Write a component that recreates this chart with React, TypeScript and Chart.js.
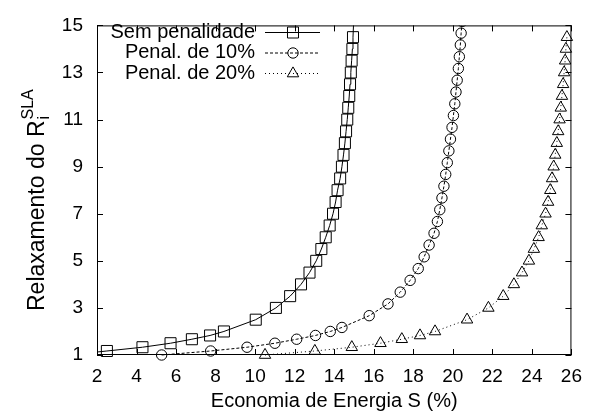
import { useEffect, useRef } from "react";
import { Chart, registerables } from "chart.js";

Chart.register(...registerables);

// Axis ticks
const xTicks = [2, 4, 6, 8, 10, 12, 14, 16, 18, 20, 22, 24, 26];
const yTicks = [1, 3, 5, 7, 9, 11, 13, 15];

// Series names
const seriesNames = ["Sem penalidade", "Penal. de 10%", "Penal. de 20%"];

// Sem penalidade
const semPenX = [0.5, 2.5, 4.3, 5.72, 6.8, 7.72, 8.42, 10.03, 11.05, 11.77, 12.32, 12.75, 13.09, 13.35, 13.57, 13.77, 13.94, 14.07, 14.17, 14.3, 14.39, 14.47, 14.54, 14.6, 14.66, 14.71, 14.76, 14.8, 14.84, 14.88, 14.92, 14.95, 15.0];
const semPenY = [1.0, 1.17, 1.33, 1.5, 1.67, 1.83, 2.0, 2.5, 3.0, 3.5, 4.0, 4.5, 5.0, 5.5, 6.0, 6.5, 7.0, 7.5, 8.0, 8.5, 9.0, 9.5, 10.0, 10.5, 11.0, 11.5, 12.0, 12.5, 13.0, 13.5, 14.0, 14.5, 15.5];

// Penal. de 10%
const pen10X = [5.27, 7.75, 9.59, 11.0, 12.1, 13.05, 13.8, 14.39, 15.77, 16.72, 17.34, 17.84, 18.25, 18.55, 18.8, 19.05, 19.22, 19.34, 19.45, 19.55, 19.64, 19.72, 19.8, 19.88, 19.96, 20.03, 20.1, 20.16, 20.22, 20.28, 20.33, 20.38, 20.42, 20.47];
const pen10Y = [1.0, 1.17, 1.33, 1.5, 1.67, 1.83, 2.0, 2.17, 2.67, 3.17, 3.67, 4.17, 4.67, 5.17, 5.67, 6.17, 6.67, 7.17, 7.67, 8.17, 8.67, 9.17, 9.67, 10.17, 10.67, 11.17, 11.67, 12.17, 12.67, 13.17, 13.67, 14.17, 14.67, 15.17];

// Penal. de 20%
const pen20X = [10.5, 13.02, 14.89, 16.34, 17.42, 18.34, 19.1, 20.72, 21.8, 22.55, 23.09, 23.5, 23.85, 24.1, 24.34, 24.5, 24.69, 24.82, 24.93, 25.02, 25.1, 25.18, 25.26, 25.33, 25.4, 25.46, 25.52, 25.58, 25.63, 25.68, 25.72, 25.77];
const pen20Y = [1.0, 1.17, 1.33, 1.5, 1.67, 1.83, 2.0, 2.5, 3.0, 3.5, 4.0, 4.5, 5.0, 5.5, 6.0, 6.5, 7.0, 7.5, 8.0, 8.5, 9.0, 9.5, 10.0, 10.5, 11.0, 11.5, 12.0, 12.5, 13.0, 13.5, 14.0, 14.5];

const FONT = "'Liberation Sans', Arial, Helvetica, sans-serif";

const styles = [
  { pointStyle: "rect", radius: 7.8, dash: [] as number[] },
  { pointStyle: "circle", radius: 5.2, dash: [3, 2] },
  { pointStyle: "triangle", radius: 6.6, dash: [1, 3] },
];

const toPoints = (xs: number[], ys: number[]) => xs.map((x, i) => ({ x, y: ys[i] }));

function drawMarker(ctx: CanvasRenderingContext2D, kind: string, r: number, x: number, y: number) {
  ctx.beginPath();
  if (kind === "rect") {
    const s = Math.SQRT1_2 * r;
    ctx.rect(x - s, y - s, 2 * s, 2 * s);
  } else if (kind === "circle") {
    ctx.arc(x, y, r, 0, Math.PI * 2);
  } else {
    const a = (2 * Math.PI) / 3;
    ctx.moveTo(x, y - r);
    ctx.lineTo(x + Math.sin(a) * r, y - Math.cos(a) * r);
    ctx.lineTo(x + Math.sin(2 * a) * r, y - Math.cos(2 * a) * r);
    ctx.closePath();
  }
  ctx.stroke();
}

const framePlugin = {
  id: "frameAndLabels",
  afterDraw(chart: any) {
    const { ctx, chartArea } = chart;
    const { left, right, top, bottom } = chartArea;
    const xs = chart.scales.x;
    const ys = chart.scales.y;
    ctx.save();
    ctx.strokeStyle = "#000";
    ctx.fillStyle = "#000";
    ctx.lineWidth = 1;
    ctx.setLineDash([]);

    // border
    ctx.strokeRect(left + 0.5, top + 0.5, right - left - 1, bottom - top - 1);

    // inward ticks on all sides
    const tl = 6;
    ctx.beginPath();
    xTicks.forEach((v) => {
      const px = Math.round(xs.getPixelForValue(v)) + 0.5;
      ctx.moveTo(px, bottom);
      ctx.lineTo(px, bottom - tl);
      ctx.moveTo(px, top);
      ctx.lineTo(px, top + tl);
    });
    yTicks.forEach((v) => {
      const py = Math.round(ys.getPixelForValue(v)) + 0.5;
      ctx.moveTo(left, py);
      ctx.lineTo(left + tl, py);
      ctx.moveTo(right, py);
      ctx.lineTo(right - tl, py);
    });
    ctx.stroke();

    // x title
    ctx.font = `20px ${FONT}`;
    ctx.textAlign = "center";
    ctx.textBaseline = "alphabetic";
    ctx.fillText("Economia de Energia S (%)", (left + right) / 2, 407);

    // y title with sub/superscript
    ctx.save();
    ctx.translate(44, 311);
    ctx.rotate(-Math.PI / 2);
    ctx.textAlign = "left";
    ctx.font = `23px ${FONT}`;
    const main = "Relaxamento do R";
    ctx.fillText(main, 0, 0);
    const w = ctx.measureText(main).width;
    ctx.font = `16px ${FONT}`;
    ctx.fillText("i", w + 1, 5);
    ctx.fillText("SLA", w + 1, -11);
    ctx.restore();

    // legend
    const rows = [32, 52.5, 73];
    ctx.font = `20px ${FONT}`;
    ctx.textAlign = "right";
    ctx.textBaseline = "middle";
    seriesNames.forEach((name, i) => {
      const ry = rows[i];
      ctx.setLineDash([]);
      ctx.fillText(name, 255, ry);
      ctx.setLineDash(styles[i].dash);
      ctx.beginPath();
      ctx.moveTo(265, ry + 0.5);
      ctx.lineTo(320, ry + 0.5);
      ctx.stroke();
      ctx.setLineDash([]);
      drawMarker(ctx, styles[i].pointStyle, styles[i].radius, 293, ry + 0.5);
    });
    ctx.restore();
  },
};

export default function App() {
  const canvasRef = useRef<HTMLCanvasElement | null>(null);

  useEffect(() => {
    if (!canvasRef.current) return;
    const seriesData = [
      toPoints(semPenX, semPenY),
      toPoints(pen10X, pen10Y),
      toPoints(pen20X, pen20Y),
    ];
    const chart = new Chart(canvasRef.current, {
      type: "scatter",
      data: {
        datasets: seriesData.map((d, i) => ({
          label: seriesNames[i],
          data: d,
          showLine: true,
          borderColor: "#000",
          backgroundColor: "rgba(0,0,0,0)",
          borderWidth: 1,
          borderDash: styles[i].dash,
          tension: 0,
          pointStyle: styles[i].pointStyle as any,
          pointRadius: styles[i].radius,
          pointBorderWidth: 1,
          pointBorderColor: "#000",
          pointBackgroundColor: "rgba(0,0,0,0)",
          clip: { left: 0, top: 0, right: 10, bottom: 10 } as any,
        })),
      },
      options: {
        animation: false,
        responsive: false,
        devicePixelRatio: 1,
        layout: { padding: { left: 0, right: 15, top: 17, bottom: 0 } },
        plugins: {
          legend: { display: false },
          tooltip: { enabled: false },
          title: { display: false },
        },
        scales: {
          x: {
            type: "linear",
            min: 2,
            max: 26,
            afterBuildTicks: (s: any) => {
              s.ticks = xTicks.map((v) => ({ value: v }));
            },
            afterFit: (s: any) => {
              s.height = 64;
            },
            grid: { display: false, drawTicks: false },
            border: { display: false },
            ticks: {
              color: "#000",
              padding: 10,
              maxRotation: 0,
              autoSkip: false,
              font: { family: FONT, size: 19 },
            },
          },
          y: {
            type: "linear",
            min: 1,
            max: 15,
            afterBuildTicks: (s: any) => {
              s.ticks = yTicks.map((v) => ({ value: v }));
            },
            afterFit: (s: any) => {
              s.width = 97;
            },
            grid: { display: false, drawTicks: false },
            border: { display: false },
            ticks: {
              color: "#000",
              padding: 14,
              autoSkip: false,
              font: { family: FONT, size: 19 },
            },
          },
        },
      },
      plugins: [framePlugin],
    });
    return () => chart.destroy();
  }, []);

  return (
    <div style={{ position: "absolute", left: 0, top: 0, width: 592, height: 419, background: "#fff" }}>
      <canvas ref={canvasRef} width={592} height={419} style={{ width: 592, height: 419, display: "block" }} />
    </div>
  );
}
